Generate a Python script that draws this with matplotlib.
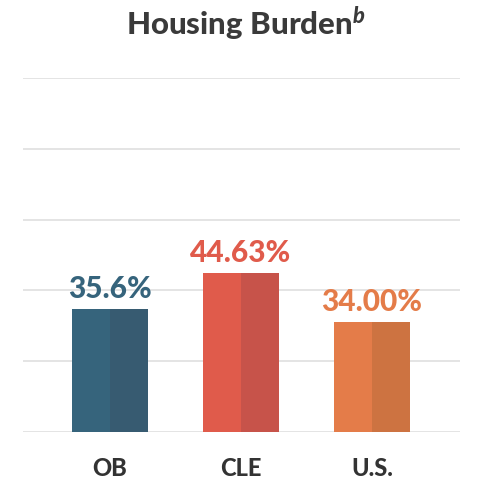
import numpy as np
import matplotlib
matplotlib.use('Agg')
import matplotlib.pyplot as plt

plt.rcParams['font.family'] = ['Lato', 'DejaVu Sans']
plt.rcParams['mathtext.fontset'] = 'custom'
plt.rcParams['mathtext.rm'] = 'Lato:black'
plt.rcParams['mathtext.it'] = 'Lato:italic:black'
plt.rcParams['mathtext.bf'] = 'Lato:black'

#data
places = ['OB', 'CLE', 'U.S.']
value_labels = ['35.6%', '44.63%', '34.00%']
bar_heights = [34.7, 45.0, 31.2]
light_cols = ['#36647c', '#e05b4b', '#e47c49']
dark_cols = ['#375b71', '#c7534a', '#cd7341']

fig = plt.figure(figsize=(4.81, 4.81), dpi=100)
ax = fig.add_axes([23/481, 48/481, 437/481, 354/481])

x = np.arange(len(places))
half = 0.29
ax.bar(x - half/2, bar_heights, width=half, color=light_cols, zorder=3)
ax.bar(x + half/2, bar_heights, width=half, color=dark_cols, zorder=3)

for xi, h, lab, c in zip(x, bar_heights, value_labels, light_cols):
    ax.annotate(lab, (xi, h), xytext=(0, 5), textcoords='offset points',
                ha='center', va='bottom', fontsize=21.5, fontweight='black', color=c)

ax.set_xlim(-0.664, 2.672)
ax.set_ylim(0, 100)
for g in range(0, 101, 20):
    ax.axhline(g, color='#e2e2e2', lw=1.3, zorder=1)

ax.set_xticks(x)
ax.set_xticklabels(places, fontsize=17, fontweight='black', color='#333333')
ax.tick_params(axis='x', length=0, pad=17)
ax.set_yticks([])
for s in ax.spines.values():
    s.set_visible(False)

fig.text(0.512, 1 - 35/481, r'Housing Burden$^{b}$', ha='center', va='baseline',
         fontsize=22.5, fontweight='black', color='#3a3a3a')

fig.savefig('out.png', dpi=100)
